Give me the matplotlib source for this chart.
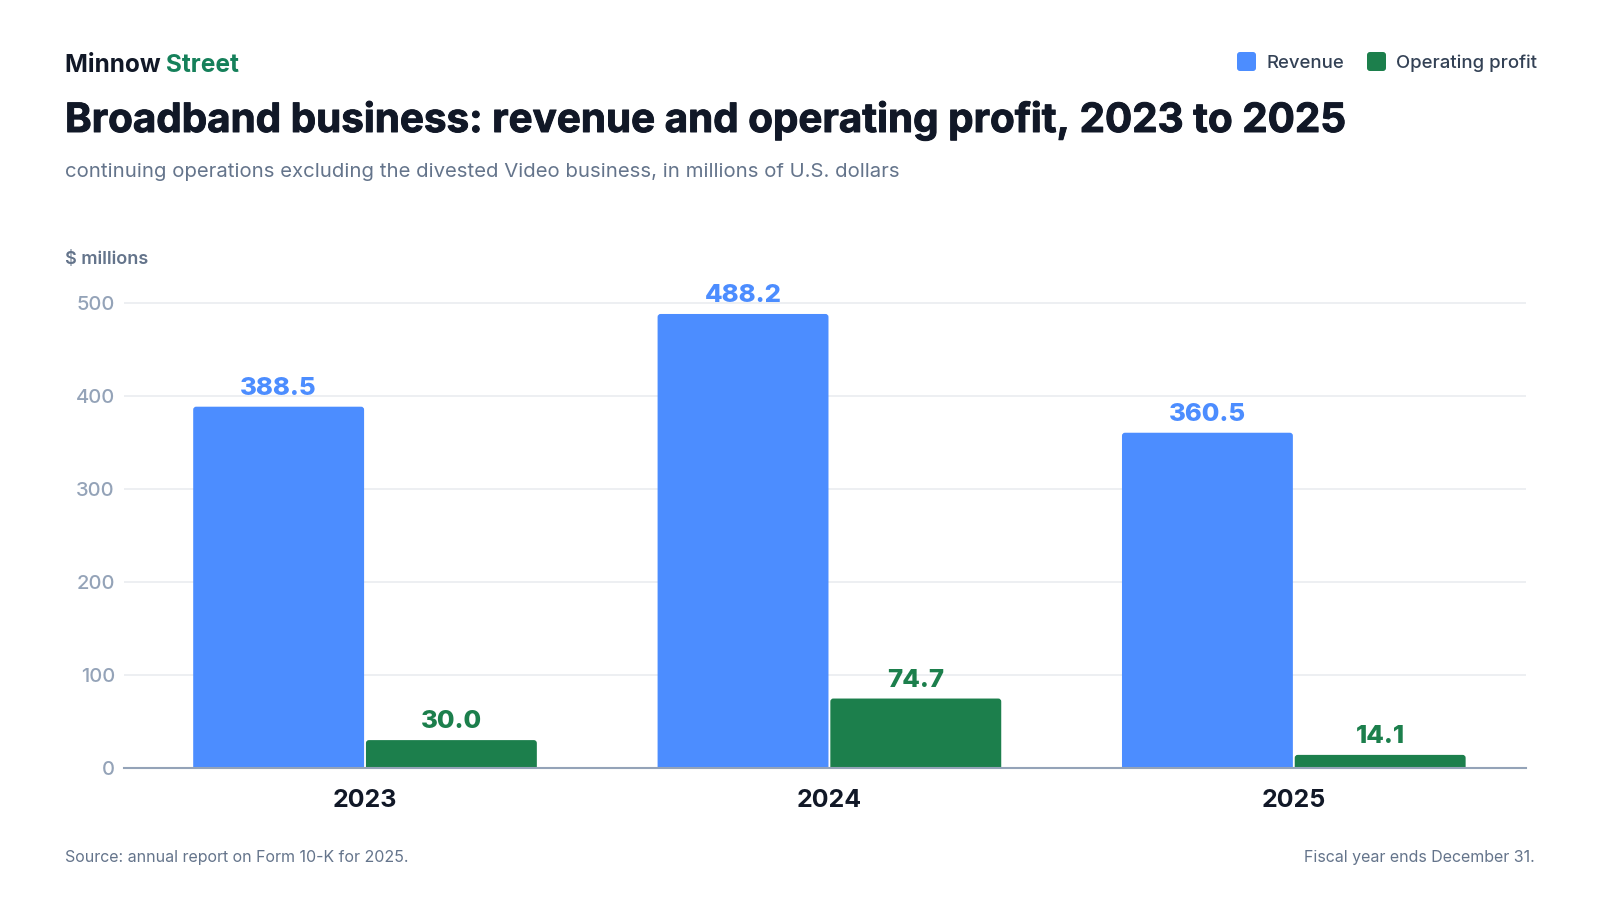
import matplotlib.pyplot as plt
import matplotlib.patheffects as pe
from matplotlib.patches import FancyBboxPatch

plt.rcParams["font.family"] = ["Inter", "DejaVu Sans"]

# data ($ millions)
years = ["2023", "2024", "2025"]
revenue = [388.5, 488.2, 360.5]
op_profit = [30.0, 74.7, 14.1]
y_ticks = [0, 100, 200, 300, 400, 500]

blue = "#4C8DFF"
green = "#1C7F4C"
dark = "#111827"
slate = "#64748B"
light = "#94A3B8"

W, H = 1600, 900
fig = plt.figure(figsize=(16, 9), dpi=100)
fig.patch.set_facecolor("white")

ax = fig.add_axes([124 / W, 1 - 768 / H, (1526 - 124) / W, 520 * 0.93 / H])
x = list(range(len(years)))
bw = 0.368
off = bw / 2 + 0.002

rev_bars = ax.bar([i - off for i in x], revenue, bw, color=blue, zorder=3)
op_bars = ax.bar([i + off for i in x], op_profit, bw, color=green, zorder=3)

# swap the plain rectangles for ones with softly rounded tops
r_px = 3
px_x = (ax.get_position().width * W) / (2.5 + 0.519)
px_y = (ax.get_position().height * H) / 520
for bars, col in [(rev_bars, blue), (op_bars, green)]:
    for b in bars:
        b.set_visible(False)
        p = FancyBboxPatch((b.get_x(), -10), b.get_width(), b.get_height() + 10,
                           boxstyle=f"round,pad=0,rounding_size={r_px / px_x}",
                           mutation_aspect=px_x / px_y,
                           facecolor=col, edgecolor="none", zorder=3)
        ax.add_patch(p)

for bars, vals, col in [(rev_bars, revenue, blue), (op_bars, op_profit, green)]:
    for b, v in zip(bars, vals):
        ax.annotate(f"{v:.1f}", (b.get_x() + b.get_width() / 2, v),
                    xytext=(0, 8.5), textcoords="offset points",
                    ha="center", va="baseline", fontsize=18.5,
                    fontweight="heavy", color=col)

ax.set_xlim(-0.519, 2.5)
ax.set_ylim(0, 520)
ax.set_xticks(x)
ax.set_xticklabels(years, fontsize=18, fontweight="bold", color=dark)
ax.set_yticks(y_ticks)
ax.set_yticklabels([str(t) for t in y_ticks], fontsize=14.5, fontweight="medium",
                   color=light)
ax.tick_params(axis="x", length=0, pad=15)
ax.tick_params(axis="y", length=0, pad=6.5)
ax.grid(axis="y", color="#E8EBEF", linewidth=1.1, zorder=0)
for s in ["top", "right", "left"]:
    ax.spines[s].set_visible(False)
ax.spines["bottom"].set_color(light)
ax.spines["bottom"].set_linewidth(1.5)
ax.spines["bottom"].set_zorder(4)

# header
t1 = fig.text(65 / W, 1 - 72 / H, "Minnow ", fontsize=17.6, fontweight="bold",
              color=dark, va="baseline")
fig.canvas.draw()
bb = t1.get_window_extent()
fig.text(bb.x1 / W, 1 - 72 / H, "Street", fontsize=17.6, fontweight="bold",
         color="#15805A", va="baseline")
fig.text(65 / W, 1 - 132 / H,
         "Broadband business: revenue and operating profit, 2023 to 2025",
         fontsize=29.05, fontweight="bold", color=dark, va="baseline",
         path_effects=[pe.withStroke(linewidth=0.7, foreground=dark)])
fig.text(65 / W, 1 - 177 / H,
         "continuing operations excluding the divested Video business, in millions of U.S. dollars",
         fontsize=14.65, color=slate, va="baseline")
fig.text(65 / W, 1 - 264 / H, "$ millions", fontsize=13, fontweight="semibold",
         color=slate, va="baseline")

# legend
leg = fig.add_axes([0, 0, 1, 1], facecolor="none")
leg.set_xlim(0, W)
leg.set_ylim(H, 0)
leg.axis("off")
for sx, label, col in [(1237, "Revenue", blue), (1367, "Operating profit", green)]:
    leg.add_patch(FancyBboxPatch((sx, 52), 19, 19,
                                 boxstyle="round,pad=0,rounding_size=3",
                                 facecolor=col, edgecolor="none"))
    leg.text(sx + 29, 68, label, fontsize=13.35, fontweight="medium",
             color="#334155", va="baseline")

# footer
fig.text(65 / W, 1 - 862 / H, "Source: annual report on Form 10-K for 2025.",
         fontsize=11.5, color=slate, va="baseline")
fig.text(1535 / W, 1 - 862 / H, "Fiscal year ends December 31.",
         fontsize=11.5, color=slate, va="baseline", ha="right")

fig.savefig("out.png", dpi=100)
